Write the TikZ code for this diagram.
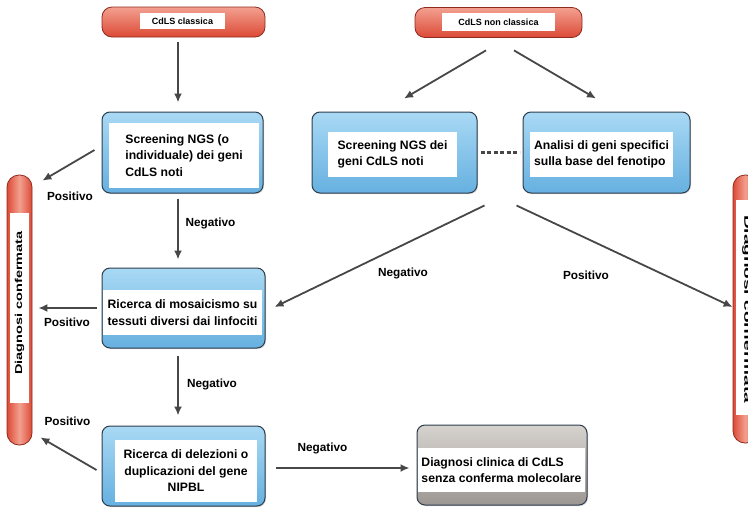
\documentclass[tikz,border=0pt]{standalone}
\usepackage{fontspec}
\setmainfont{Liberation Sans}
\usepackage{graphicx}
\usetikzlibrary{arrows.meta,shadows,positioning}
\definecolor{rossoA}{HTML}{F3A090}
\definecolor{rossoB}{HTML}{DC4A36}
\definecolor{rossoBordo}{HTML}{8E2A1E}
\definecolor{bluA}{HTML}{A9D9F4}
\definecolor{bluB}{HTML}{66B0E0}
\definecolor{bluBordo}{HTML}{2E3D4C}
\definecolor{grigioA}{HTML}{D6D2CE}
\definecolor{grigioB}{HTML}{9C9793}
\definecolor{grigioFreccia}{HTML}{474747}
\tikzset{pill/.style={rounded corners=10pt, top color=rossoA, bottom color=rossoB,
                      draw=rossoBordo, line width=0.8pt},
        barra/.style={rounded corners=12pt, left color=rossoB, right color=rossoB,
                      middle color=rossoA, draw=rossoBordo, line width=0.8pt},
        bluebox/.style={rounded corners=8pt, top color=bluA, bottom color=bluB,
                        draw=bluBordo, line width=1pt,
                        drop shadow={opacity=0.3, shadow xshift=1pt, shadow yshift=-1pt}},
        graybox/.style={rounded corners=8pt, top color=grigioA, bottom color=grigioB,
                        draw=bluBordo, line width=1pt,
                        drop shadow={opacity=0.3, shadow xshift=1pt, shadow yshift=-1pt}},
        etichetta/.style={fill=white, inner sep=0pt, font=\bfseries\fontsize{9}{10}\selectfont},
        testo/.style={fill=white, inner sep=0pt, align=left, font=\bfseries\fontsize{12.2}{16.5}\selectfont},
        esito/.style={inner sep=0pt, font=\bfseries\fontsize{11.8}{14}\selectfont},
        freccia/.style={draw=grigioFreccia, line width=1.8pt, -{Latex[length=9pt,width=8pt]}},
        }

\begin{document}
\begin{tikzpicture}[x=1pt,y=-1pt]
    \clip (0,0) rectangle (748,507);

    % partenze
    \node[pill, minimum width=163, minimum height=30] (classica) at (183.5,22) {};
    \node[etichetta, minimum width=85, minimum height=16] (classicaTxt) at (182.5,21) {CdLS classica};
    \node[pill, minimum width=167, minimum height=30] (nonclassica) at (498.5,22.5) {};
    \node[etichetta, minimum width=113, minimum height=18] (nonclassicaTxt) at (498.5,22) {CdLS non classica};

    % test
    \node[bluebox, minimum width=161, minimum height=81] (ngsUno) at (182.5,152.5) {};
    \node[testo, minimum width=150, minimum height=65] (ngsUnoTxt) at (184,155.5)
        {Screening NGS (o\\individuale) dei geni\\CdLS noti};
    \node[bluebox, minimum width=165, minimum height=81] (ngsDue) at (394.5,152.5) {};
    \node[testo, minimum width=129, minimum height=45] (ngsDueTxt) at (392.5,154.5)
        {Screening NGS dei\\geni CdLS noti};
    \node[bluebox, minimum width=167, minimum height=81] (analisi) at (606.5,152.5) {};
    \node[testo, minimum width=143, minimum height=45] (analisiTxt) at (601.5,154.5)
        {Analisi di geni specifici\\sulla base del fenotipo};
    \node[bluebox, minimum width=163, minimum height=80] (mosaico) at (183.5,308) {};
    \node[testo, minimum width=159, minimum height=45] (mosaicoTxt) at (182.5,312.5)
        {Ricerca di mosaicismo su\\tessuti diversi dai linfociti};
    \node[bluebox, minimum width=163, minimum height=80] (delezioni) at (183.5,466) {};
    \node[testo, align=center, minimum width=142, minimum height=62] (delezioniTxt) at (186,471)
        {Ricerca di delezioni o\\duplicazioni del gene\\NIPBL};
    \node[graybox, minimum width=170, minimum height=80] (clinica) at (502,465) {};
    \node[testo, minimum width=167, minimum height=44] (clinicaTxt) at (501.5,470)
        {Diagnosi clinica di CdLS\\senza conferma molecolare};

    % diagnosi confermata
    \node[barra, minimum width=25, minimum height=270] (diagSx) at (19.5,310) {};
    \node[fill=white, inner sep=0pt, minimum width=19, minimum height=190] (diagSxBg) at (19.5,308) {};
    \node[rotate=90, inner sep=0pt, font=\bfseries\fontsize{10}{12}\selectfont] (diagSxTxt) at (19.5,303)
        {\scalebox{1.45}[1]{Diagnosi confermata}};
    \node[barra, minimum width=25, minimum height=268] (diagDx) at (745.5,309) {};
    \node[fill=white, inner sep=0pt, minimum width=19, minimum height=215] (diagDxBg) at (745.5,307.5) {};
    \node[rotate=-90, inner sep=0pt, font=\bfseries\fontsize{10}{12}\selectfont] (diagDxTxt) at (747,309)
        {\scalebox{1.9}[1]{Diagnosi confermata}};

    \draw[grigioFreccia, line width=2.4pt, dash pattern=on 4pt off 2.5pt] ([xshift=3pt]ngsDue.east) -- ([xshift=-3pt]analisi.west);

    % frecce
    \draw[freccia] ([xshift=-5.5pt,yshift=-5pt]classica.south) -- ([xshift=-4.5pt,yshift=9pt]ngsUno.north);
    \draw[freccia] ([xshift=-12.5pt,yshift=-12.5pt]nonclassica.south) -- ([xshift=9.5pt,yshift=13pt]ngsDue.north);
    \draw[freccia] ([xshift=15.5pt,yshift=-12.5pt]nonclassica.south) -- ([xshift=-10.5pt,yshift=13pt]analisi.north);
    \draw[freccia] ([xshift=-7pt,yshift=2.5pt]ngsUno.west) -- ([xshift=10pt,yshift=-6pt]diagSx.north east);
    \draw[freccia] ([xshift=-4.5pt,yshift=-5pt]ngsUno.south) -- ([xshift=-5.5pt,yshift=8pt]mosaico.north);
    \draw[freccia] ([xshift=-5pt]mosaico.west) -- ([xshift=6pt,yshift=2pt]diagSx.east);
    \draw[freccia] ([xshift=7pt,yshift=-12pt]ngsDue.south east) -- ([xshift=9pt,yshift=1pt]mosaico.east);
    \draw[freccia] ([xshift=-6pt,yshift=-12pt]analisi.south west) -- ([yshift=2pt]diagDx.west);
    \draw[freccia] ([xshift=-5.5pt,yshift=-7pt]mosaico.south) -- ([xshift=-5.5pt,yshift=10pt]delezioni.north);
    \draw[freccia] ([xshift=-5pt,yshift=-4pt]delezioni.west) -- ([xshift=8pt,yshift=8pt]diagSx.south east);
    \draw[freccia] ([xshift=10pt,yshift=-2pt]delezioni.east) -- ([xshift=-7pt,yshift=-3pt]clinica.west);

    \node[esito] (posUno) at (70,196) {Positivo};
    \node[esito] (negUno) at (210.5,223) {Negativo};
    \node[esito] (posDue) at (67,322) {Positivo};
    \node[esito] (negDue) at (403,273) {Negativo};
    \node[esito] (posTre) at (586,275) {Positivo};
    \node[esito] (negTre) at (212,384) {Negativo};
    \node[esito] (posQuattro) at (67.5,421) {Positivo};
    \node[esito] (negQuattro) at (322.5,448) {Negativo};

\end{tikzpicture}
\end{document}
